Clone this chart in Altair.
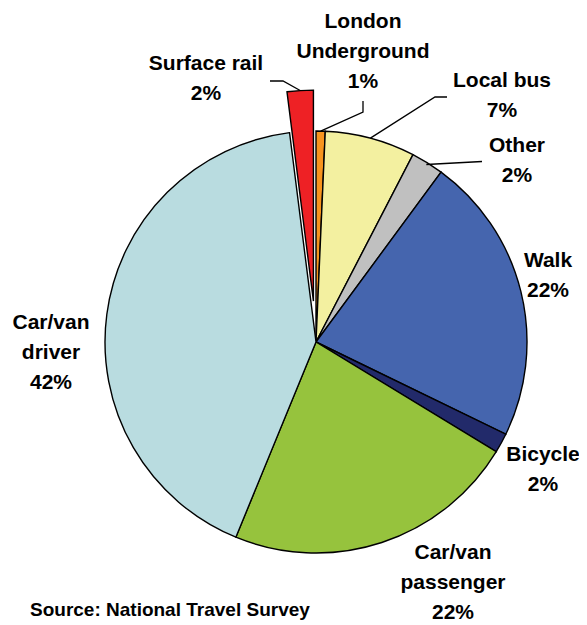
import math
import altair as alt
import pandas as pd

# ---- data ----
modes = ["London Underground", "Local bus", "Other", "Walk", "Bicycle",
         "Car/van passenger", "Car/van driver", "Surface rail"]
shares = [0.7, 6.9, 2.5, 22.1, 1.5, 22.5, 41.8, 2.0]
name_lines = ["London\nUnderground", "Local bus", "Other", "Walk", "Bicycle",
              "Car/van\npassenger", "Car/van\ndriver", "Surface rail"]
pct_labels = ["1%", "7%", "2%", "22%", "2%", "22%", "42%", "2%"]
colors = ["#F7941E", "#F3F0A0", "#C0C0C0", "#4565AE", "#222A6A",
          "#96C33D", "#B9DCE0", "#EE2125"]
source_text = "Source: National Travel Survey"

# ---- layout ----
W, H = 571, 617
CX, CY, R = 308, 334, 211
EXPLODE = 41  # Surface rail slice pulled out
FONT = "Liberation Sans"

df = pd.DataFrame({"mode": modes, "share": shares, "idx": list(range(len(modes)))})
total = sum(shares)

# mid angles (clockwise from 12 o'clock) derived from data
mids = {}
acc = 0.0
for m, s in zip(modes, shares):
    mids[m] = (acc + s / 2) / total * 2 * math.pi
    acc += s


def rim(mode, extra=0.0, off=(0.0, 0.0)):
    a = mids[mode]
    return (CX + off[0] + (R + extra) * math.sin(a), CY + off[1] - (R + extra) * math.cos(a))


ra = mids["Surface rail"]
rail_off = (EXPLODE * math.sin(ra), -EXPLODE * math.cos(ra))

color_scale = alt.Scale(domain=modes, range=colors)
is_rail = alt.datum.mode == "Surface rail"

base = alt.Chart(df)
pie = base.mark_arc(radius=R, stroke="black", strokeWidth=1.4).encode(
    theta=alt.Theta("share:Q", stack=True),
    color=alt.Color("mode:N", scale=color_scale, legend=None),
    order=alt.Order("idx:Q"),
    opacity=alt.condition(is_rail, alt.value(0), alt.value(1)),
    x=alt.value(CX), y=alt.value(CY),
)
rail = base.mark_arc(radius=R, stroke="black", strokeWidth=1.4).encode(
    theta=alt.Theta("share:Q", stack=True),
    color=alt.Color("mode:N", scale=color_scale, legend=None),
    order=alt.Order("idx:Q"),
    opacity=alt.condition(is_rail, alt.value(1), alt.value(0)),
    x=alt.value(CX + rail_off[0]), y=alt.value(CY + rail_off[1]),
)

# leader lines: start on the slice rim, then to label
leaders = []
def add_leader(g, pts):
    for i, (x, y) in enumerate(pts):
        leaders.append({"g": g, "o": i, "x": x, "y": y})

add_leader("lu", [rim("London Underground"), (355, 104), (355, 93)])
add_leader("bus", [rim("Local bus"), (427, 89), (439, 89)])
add_leader("oth", [rim("Other", -2), (474, 153.5)])
add_leader("rail", [rim("Surface rail", 0, rail_off), (275, 73), (262, 73)])
ldf = pd.DataFrame(leaders)

lines = alt.Chart(ldf).mark_line(color="black", strokeWidth=1.3).encode(
    x=alt.X("x:Q", scale=None, axis=None),
    y=alt.Y("y:Q", scale=None, axis=None),
    detail="g:N", order="o:Q",
)

# position of the first line of each label
label_pos = {
    "London Underground": (355, 14),
    "Local bus": (494, 73),
    "Other": (509, 138),
    "Walk": (540, 253),
    "Bicycle": (535, 447),
    "Car/van passenger": (445, 545),
    "Car/van driver": (43, 315),
    "Surface rail": (198, 56),
}
tdf = pd.DataFrame({
    "text": [n + "\n" + p for n, p in zip(name_lines, pct_labels)],
    "x": [label_pos[m][0] for m in modes],
    "y": [label_pos[m][1] for m in modes],
})
texts = alt.Chart(tdf).mark_text(
    font=FONT, fontWeight="bold", fontSize=21, lineBreak="\n", lineHeight=30,
    align="center", baseline="middle", color="black",
).encode(
    x=alt.X("x:Q", scale=None, axis=None),
    y=alt.Y("y:Q", scale=None, axis=None),
    text="text:N",
)

src = alt.Chart(pd.DataFrame({"t": [source_text]})).mark_text(
    font=FONT, fontWeight="bold", fontSize=19, align="left", baseline="middle", color="black",
).encode(x=alt.value(22), y=alt.value(602), text="t:N")

chart = alt.layer(pie, rail, lines, texts, src).properties(
    width=W, height=H, autosize="none", padding=0,
).configure_view(stroke=None)

chart.save("out.html", embed_options={"renderer": "svg", "actions": False})
